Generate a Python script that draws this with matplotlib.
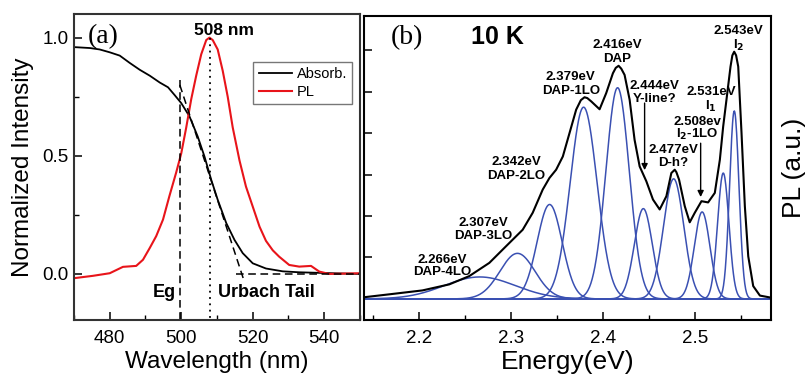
"""Absorption / PL (a) et deconvolution gaussienne du spectre PL a 10 K (b)."""
import matplotlib

matplotlib.use("Agg")
import matplotlib.pyplot as plt
import numpy as np
from matplotlib.ticker import MultipleLocator, NullFormatter

plt.rcParams.update({"font.family": ["Liberation Sans", "DejaVu Sans"],
                     "axes.linewidth": 1.5,
                     "xtick.direction": "in", "ytick.direction": "in",
                     "xtick.major.size": 5.5, "ytick.major.size": 5.5,
                     "xtick.minor.size": 3.5, "ytick.minor.size": 3.5,
                     "xtick.major.width": 1.1, "ytick.major.width": 1.1,
                     "xtick.minor.width": 1.0, "ytick.minor.width": 1.0})

BLUE = "#3a50b2"
RED = "#e8141a"

# (a) absorption normalisee
ABS_NM = [470, 474.5, 477.2, 480, 482.8, 485.6, 488.4, 491.2, 494, 496.3, 498.1, 500,
          502.3, 504.6, 506.5, 508.4, 510.2, 512.6, 514.9, 517.2, 520, 523.7, 528.4,
          533, 542.3, 550]
ABS_VAL = [0.96, 0.956, 0.95, 0.938, 0.924, 0.893, 0.864, 0.839, 0.81, 0.79, 0.758,
           0.723, 0.667, 0.582, 0.497, 0.398, 0.314, 0.215, 0.144, 0.088, 0.045, 0.023,
           0.011, 0.007, 0.003, 0.0]

# (a) PL normalisee
PL_NM = [470, 475.3, 480, 483.7, 487.4, 489.3, 491.2, 493, 494.9, 496.7, 498.6, 500,
         501.4, 502.8, 504.2, 505.6, 507, 507.9, 508.8, 510.2, 511.6, 513, 514.4, 516.3,
         518.1, 520, 521.9, 523.7, 525.6, 527.4, 530.2, 533, 536.3, 538.6, 541.4, 550]
PL_VAL = [-0.018, -0.008, 0.003, 0.03, 0.034, 0.06, 0.11, 0.16, 0.23, 0.33, 0.43, 0.51,
          0.62, 0.74, 0.84, 0.93, 0.99, 1.0, 0.99, 0.95, 0.86, 0.75, 0.62, 0.48, 0.37,
          0.285, 0.20, 0.14, 0.10, 0.073, 0.038, 0.031, 0.034, 0.01, 0.0, 0.003]

EG_NM = 499.7
PEAK_NM = 508
TANGENT_NM = [499.6, 517.7]
TANGENT_VAL = [0.80, -0.035]
TAIL_NM = [515.4, 550]
TAIL_VAL = [0.0, 0.0]

# (b) spectre PL mesure a 10 K
PL10K_EV = [2.14, 2.1673, 2.2036, 2.2327, 2.2545, 2.2764, 2.2945, 2.3127, 2.3236, 2.3345,
            2.3418, 2.3491, 2.3564, 2.3636, 2.3709, 2.376, 2.38, 2.383, 2.3873, 2.3964,
            2.4036, 2.4109, 2.414, 2.4171, 2.420, 2.4236, 2.4291, 2.4345, 2.44, 2.4473,
            2.4545, 2.4618, 2.4691, 2.4745, 2.4782, 2.480, 2.4829, 2.4891, 2.4945, 2.5,
            2.5073, 2.5145, 2.5218, 2.5273, 2.5309, 2.5345, 2.5389, 2.5409, 2.5429,
            2.545, 2.5473, 2.5509, 2.5545, 2.5582, 2.5636, 2.5709, 2.583]
PL10K_VAL = [0.04, 0.11, 0.205, 0.35, 0.55, 0.87, 1.27, 1.67, 2.08, 2.64,
             2.92, 3.12, 3.44, 4.00, 4.57, 4.80, 4.87, 4.85, 4.77, 4.58,
             4.97, 5.45, 5.58, 5.63, 5.56, 5.41, 4.81, 3.84, 3.20, 2.84,
             2.40, 2.16, 2.48, 3.04, 3.12, 3.06, 2.88, 2.24, 1.85, 2.08,
             2.36, 2.33, 2.56, 3.36, 4.16, 4.81, 5.61, 5.88, 5.97,
             5.88, 5.61, 4.00, 2.24, 1.03, 0.31, 0.08, 0.03]

# (b) composantes gaussiennes : centre (eV), hauteur, FWHM (eV)
COMP_EV = [2.266, 2.307, 2.342, 2.379, 2.416, 2.444, 2.477, 2.508, 2.531, 2.543]
COMP_HEIGHT = [0.53, 1.10, 2.28, 4.63, 5.10, 2.18, 2.90, 2.10, 3.04, 4.54]
COMP_FWHM = [0.091, 0.045, 0.032, 0.0345, 0.030, 0.023, 0.026, 0.020, 0.0145, 0.012]

LABEL_TOP = ["2.266eV", "2.307eV", "2.342eV", "2.379eV", "2.416eV", "2.444eV",
             "2.477eV", "2.508ev", "2.531eV", "2.543eV"]
LABEL_BOT = ["DAP-4LO", "DAP-3LO", "DAP-2LO", "DAP-1LO", "DAP", "Y-line?",
             "D-h?", "I$_\\mathbf{2}$-1LO", "I$_\\mathbf{1}$", "I$_\\mathbf{2}$"]
LABEL_X = [2.225, 2.270, 2.306, 2.365, 2.416, 2.456, 2.477, 2.503, 2.518, 2.548]
LABEL_Y = [0.95, 1.84, 3.31, 5.36, 6.13, 5.14, 3.60, 4.28, 5.00, 6.47]
LABEL_DY = [0.31, 0.33, 0.35, 0.34, 0.33, 0.31, 0.31, 0.32, 0.36, 0.34]

ARROW_X = [2.4454, 2.5064]
ARROW_FROM = [4.73, 3.76]
ARROW_TO = [3.11, 2.46]


def panel_a(ax):
    ax.plot(ABS_NM, ABS_VAL, color="black", lw=1.3, label="Absorb.")
    ax.plot(PL_NM, PL_VAL, color=RED, lw=1.5, label="PL")
    ax.plot([EG_NM, EG_NM], [0.82, -0.195], color="black", lw=1.1, ls=(0, (5, 3)))
    ax.plot(TANGENT_NM, TANGENT_VAL, color="black", lw=1.1, ls=(0, (5, 3)))
    ax.plot(TAIL_NM, TAIL_VAL, color="black", lw=1.1, ls=(0, (5, 3)))
    ax.plot([PEAK_NM, PEAK_NM], [1.0, -0.19], color="black", lw=1.3, ls=(0, (1, 2.5)))
    ax.set_xlim(470, 550)
    ax.set_ylim(-0.195, 1.10)
    ax.xaxis.set_major_locator(MultipleLocator(20))
    ax.xaxis.set_minor_locator(MultipleLocator(10))
    ax.yaxis.set_major_locator(MultipleLocator(0.5))
    ax.yaxis.set_minor_locator(MultipleLocator(0.25))
    ax.tick_params(labelsize=13.5)
    ax.tick_params(axis="x", pad=7)
    ax.tick_params(axis="y", pad=4)
    for s in ax.spines.values():
        s.set_color("#333333")
    ax.set_xlabel("Wavelength (nm)", fontsize=17.5, labelpad=3)
    ax.set_ylabel("Normalized Intensity", fontsize=17.5, labelpad=6)
    ax.text(0.101, 0.925, "(a)", transform=ax.transAxes, ha="center", va="center",
            fontsize=20, family="Liberation Serif")
    ax.text(512.1, 1.03, "508 nm", ha="center", va="center", fontsize=12.5,
            fontweight="bold")
    ax.text(495.3, -0.08, "Eg", ha="center", va="center", fontsize=13, fontweight="bold")
    ax.text(523.8, -0.08, "Urbach Tail", ha="center", va="center", fontsize=13,
            fontweight="bold")
    leg = ax.legend(loc="upper right", bbox_to_anchor=(0.972, 0.843), borderaxespad=0,
                    fontsize=10.5, handlelength=2.3, handletextpad=0.3,
                    labelspacing=0.25, fancybox=False, framealpha=1, borderpad=0.35)
    leg.get_frame().set_edgecolor("#777777")
    leg.get_frame().set_linewidth(1.0)


def panel_b(ax):
    ev = np.linspace(2.14, 2.583, 900)
    for c, h, w in zip(COMP_EV, COMP_HEIGHT, COMP_FWHM):
        sig = w / 2.3548
        ax.plot(ev, h * np.exp(-0.5 * ((ev - c) / sig) ** 2), color=BLUE, lw=1.1)
    ax.plot(PL10K_EV, PL10K_VAL, color="black", lw=1.5)
    for x, y, dy, t, b in zip(LABEL_X, LABEL_Y, LABEL_DY, LABEL_TOP, LABEL_BOT):
        ax.text(x, y, t, ha="center", va="center", fontsize=9.5, fontweight="bold")
        ax.text(x, y - dy, b, ha="center", va="center", fontsize=9.5, fontweight="bold")
    for x, y0, y1 in zip(ARROW_X, ARROW_FROM, ARROW_TO):
        ax.annotate("", xy=(x, y1), xytext=(x, y0),
                    arrowprops=dict(arrowstyle="-|>", color="black", lw=1.0,
                                    mutation_scale=9, shrinkA=0, shrinkB=0))
    ax.set_xlim(2.14, 2.583)
    ax.set_ylim(-0.51, 6.83)
    ax.xaxis.set_major_locator(MultipleLocator(0.1))
    ax.xaxis.set_minor_locator(MultipleLocator(0.05))
    ax.yaxis.set_major_locator(MultipleLocator(1))
    ax.yaxis.set_major_formatter(NullFormatter())
    ax.tick_params(labelsize=13.5)
    ax.tick_params(axis="x", pad=7)
    ax.set_xlabel("Energy(eV)", fontsize=19, labelpad=2)
    ax.yaxis.set_label_position("right")
    ax.set_ylabel("PL (a.u.)", fontsize=19, labelpad=8)
    ax.text(0.106, 0.928, "(b)", transform=ax.transAxes, ha="center", va="center",
            fontsize=20, family="Liberation Serif")
    ax.text(0.329, 0.931, "10 K", transform=ax.transAxes, ha="center", va="center",
            fontsize=18, fontweight="bold")


fig = plt.figure(figsize=(8.05, 3.78), dpi=100)
ax_a = fig.add_axes([0.0919, 0.1534, 0.3553, 0.8095])
ax_b = fig.add_axes([0.4522, 0.1534, 0.5056, 0.804])
panel_a(ax_a)
panel_b(ax_b)
fig.savefig("out.png", dpi=100)
